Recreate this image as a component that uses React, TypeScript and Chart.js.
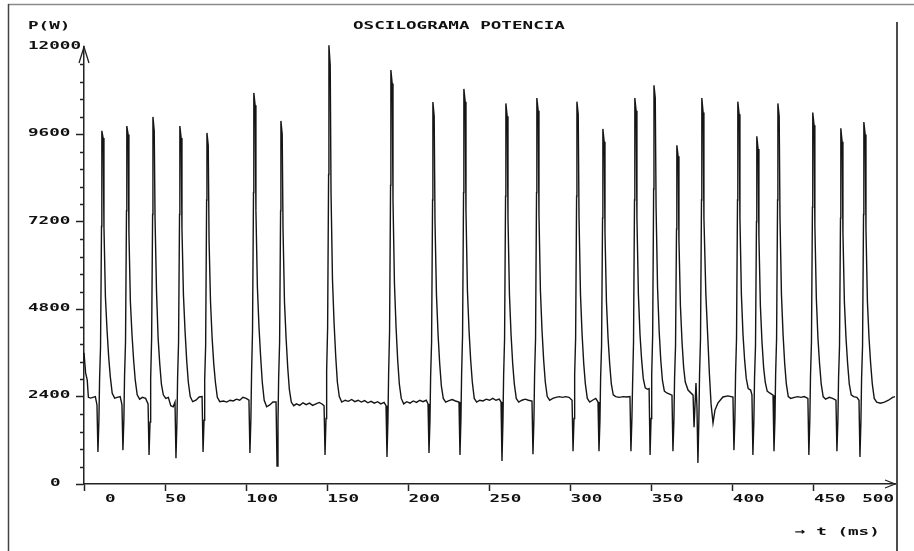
import { useEffect, useRef } from "react";
import { Chart, registerables } from "chart.js";

Chart.register(...registerables);

const TITLE = "OSCILOGRAMA POTENCIA";
const Y_UNIT = "P(W)";
const X_UNIT = "→ t (ms)";
const X_TICKS = [0, 50, 100, 150, 200, 250, 300, 350, 400, 450, 500];
const Y_TICKS = [0, 2400, 4800, 7200, 9600, 12000];
const Y_MINOR_STEP = 480;

// time samples (ms)
const T_MS = [
  0, 1.0, 2.0, 2.7, 4.0, 5.5, 7.0,
  8.0, 8.6, 9.2, 9.6, 10.2, 10.8, 11.0, 11.8, 12.3, 13.2, 14.2, 15.2, 16.2, 17.4, 18.9, 20.5, 22.3,
  23.4, 24.0, 24.6, 25.0, 25.6, 26.2, 26.4, 27.2, 27.7, 28.6, 29.6, 30.6, 31.6, 32.8, 34.3, 36.0, 38.0,
  39.5, 40.1, 40.7, 41.1, 41.7, 42.3, 42.5, 43.3, 43.8, 44.7, 45.7, 46.7, 47.7, 48.9, 50.4, 52.0, 53.5, 55.0,
  56.1, 56.7, 57.3, 57.7, 58.3, 58.9, 59.1, 59.9, 60.4, 61.3, 62.3, 63.3, 64.3, 65.5, 67.0, 69.0, 71.0,
  72.8, 73.4, 74.0, 74.4, 75.0, 75.6, 75.8, 76.6, 77.1, 78.0, 79.0, 80.0, 81.0, 82.2, 83.7, 86.0, 88.0, 90.0, 92.0, 94.0, 96.0, 98.0, 100.0,
  101.7, 102.3, 102.9, 103.3, 103.9, 104.5, 104.7, 105.5, 106.0, 106.9, 107.9, 108.9, 109.9, 111.1, 112.6, 114.5, 116.5,
  118.4, 119.0, 119.6, 120.0, 120.6, 121.2, 121.4, 122.2, 122.7, 123.6, 124.6, 125.6, 126.6, 127.8, 129.3, 131, 133, 135, 137, 139, 141, 143, 145, 147,
  148.0, 148.6, 149.2, 149.6, 150.2, 150.8, 151.0, 151.8, 152.3, 153.2, 154.2, 155.2, 156.2, 157.4, 158.9, 161, 163, 165, 167, 169, 171, 173, 175, 177, 179, 181, 183, 185,
  186.2, 186.8, 187.4, 187.8, 188.4, 189.0, 189.2, 190.0, 190.5, 191.4, 192.4, 193.4, 194.4, 195.6, 197.1, 199, 201, 203, 205, 207, 209, 211,
  212.1, 212.7, 213.3, 213.7, 214.3, 214.9, 215.1, 215.9, 216.4, 217.3, 218.3, 219.3, 220.3, 221.5, 223.0, 225, 227, 229,
  231.2, 231.8, 232.4, 232.8, 233.4, 234.0, 234.2, 235.0, 235.5, 236.4, 237.4, 238.4, 239.4, 240.6, 242.1, 244, 246, 248, 250, 252, 254, 256,
  257.1, 257.7, 258.3, 258.7, 259.3, 259.9, 260.1, 260.9, 261.4, 262.3, 263.3, 264.3, 265.3, 266.5, 268.0, 270, 272, 274,
  276.2, 276.8, 277.4, 277.8, 278.4, 279.0, 279.2, 280.0, 280.5, 281.4, 282.4, 283.4, 284.4, 285.6, 287.1, 289, 291, 293, 295, 297, 299,
  300.9, 301.5, 302.1, 302.5, 303.1, 303.7, 303.9, 304.7, 305.2, 306.1, 307.1, 308.1, 309.1, 310.3, 311.8, 313.5, 315.5,
  316.9, 317.5, 318.1, 318.5, 319.1, 319.7, 319.9, 320.7, 321.2, 322.1, 323.1, 324.1, 325.1, 326.3, 327.8, 330, 332.5, 334.5,
  336.6, 337.2, 337.8, 338.2, 338.8, 339.4, 339.6, 340.4, 340.9, 341.8, 342.8, 343.8, 344.8, 346.0, 347.5,
  348.4, 349.0, 349.6, 350.0, 350.6, 351.2, 351.4, 352.2, 352.7, 353.6, 354.6, 355.6, 356.6, 357.8, 359.3, 361.0,
  362.5, 363.1, 363.7, 364.1, 364.7, 365.3, 365.5, 366.3, 366.8, 367.7, 368.7, 369.7, 370.7, 372.4, 375.5, 376.1, 377.3, 377.9,
  378.5, 379.1, 379.5, 380.1, 380.7, 380.9, 381.7, 382.2, 383.4, 384.6, 385.6, 386.6, 387.8, 389.0, 390.8, 393.9, 397.0,
  400.1, 400.7, 401.3, 401.7, 402.3, 402.9, 403.1, 403.9, 404.4, 405.3, 406.3, 407.3, 408.3, 409.5, 411.0, 411.8,
  412.4, 413.0, 413.4, 414.0, 414.6, 414.8, 415.6, 416.1, 417.0, 418.0, 419.0, 420.0, 421.2, 422.7, 424.8,
  425.4, 426.0, 426.4, 427.0, 427.6, 427.8, 428.6, 429.1, 430.0, 431.0, 432.0, 433.0, 434.2, 435.7, 438, 440, 442, 444,
  446.3, 446.9, 447.5, 447.9, 448.5, 449.1, 449.3, 450.1, 450.6, 451.5, 452.5, 453.5, 454.5, 455.7, 457.2, 459.5, 461.5,
  463.6, 464.2, 464.8, 465.2, 465.8, 466.4, 466.6, 467.4, 467.9, 468.8, 469.8, 470.8, 471.8, 473.0, 474.5, 476.5,
  477.8, 478.4, 479.0, 479.4, 480.0, 480.6, 480.8, 481.6, 482.1, 483.0, 484.0, 485.0, 486.0, 487.2, 488.7, 491, 493.5, 496, 498.5, 500,
];

// power samples (W)
const P_W = [
  3600, 3050, 2850, 2380, 2360, 2380, 2400,
  2170, 880, 1760, 2860, 3770, 7070, 9700, 9500, 7070, 5140, 4230, 3500, 2950, 2490, 2360, 2380, 2400,
  2180, 930, 1800, 2950, 3900, 7500, 9830, 9600, 6900, 5000, 4100, 3400, 2850, 2450, 2330, 2380, 2350,
  2200, 800, 1700, 2900, 4000, 7400, 10080, 9700, 7300, 5300, 4000, 3300, 2750, 2450, 2350, 2380, 2150, 2120,
  2250, 710, 1700, 2900, 3900, 7400, 9830, 9500, 7000, 5200, 4200, 3400, 2800, 2400, 2260, 2300, 2390,
  2400, 880, 1750, 2850, 3800, 7800, 9640, 9300, 6700, 5000, 4000, 3300, 2800, 2380, 2260, 2280, 2250, 2300, 2280, 2330, 2300, 2380, 2350,
  2300, 850, 1800, 3000, 4200, 8000, 10740, 10400, 7500, 5400, 4300, 3500, 2800, 2300, 2120, 2170, 2250,
  2250, 490, 1700, 2900, 3900, 7500, 9970, 9600, 7000, 5000, 4000, 3200, 2600, 2250, 2150, 2200, 2160, 2230, 2180, 2220, 2160, 2200, 2240, 2190,
  2150, 800, 1800, 3100, 4300, 8500, 12050, 11500, 8000, 5600, 4400, 3500, 2800, 2400, 2250, 2300, 2270, 2320, 2260, 2300, 2250, 2290, 2230, 2270, 2220, 2260, 2200, 2240,
  2150, 740, 1800, 3000, 4200, 8200, 11370, 11000, 7800, 5500, 4300, 3400, 2750, 2350, 2200, 2260, 2220, 2280, 2240, 2300, 2260, 2300,
  2200, 850, 1750, 2950, 3900, 7800, 10490, 10100, 7200, 5200, 4100, 3300, 2700, 2350, 2250, 2290, 2320, 2280,
  2250, 800, 1800, 3000, 4100, 8000, 10850, 10500, 7500, 5300, 4200, 3400, 2800, 2350, 2250, 2300, 2280, 2330, 2300, 2350, 2300, 2330,
  2250, 630, 1750, 2950, 4000, 7900, 10450, 10100, 7300, 5200, 4100, 3300, 2750, 2350, 2250, 2300, 2330, 2300,
  2280, 820, 1800, 3000, 4000, 8000, 10600, 10250, 7400, 5300, 4200, 3400, 2800, 2400, 2300, 2350, 2380, 2400, 2380, 2400, 2380,
  2300, 900, 1800, 3000, 4000, 7900, 10500, 10150, 7300, 5200, 4100, 3300, 2750, 2350, 2250, 2300, 2350,
  2250, 900, 1750, 2900, 3800, 7300, 9750, 9400, 6900, 5000, 4000, 3300, 2750, 2450, 2400, 2380, 2400, 2390,
  2400, 900, 1800, 2700, 3900, 7800, 10600, 10250, 7300, 5200, 4100, 3400, 2900, 2640, 2600,
  2620, 800, 1800, 3000, 4100, 8100, 10950, 10600, 7600, 5400, 4200, 3400, 2850, 2550, 2500, 2470,
  2440, 900, 1750, 2900, 3800, 7000, 9300, 9000, 6700, 4900, 3900, 3200, 2800, 2580, 2440, 1560, 2770, 2110,
  580, 1800, 3000, 4000, 7800, 10600, 10200, 7300, 5200, 4000, 3000, 2200, 1675, 2030, 2220, 2390, 2420,
  2390, 930, 1800, 3000, 4000, 7800, 10500, 10150, 7300, 5200, 4100, 3400, 2900, 2620, 2580, 2450,
  800, 1750, 2900, 3800, 7200, 9550, 9200, 6800, 4900, 3900, 3200, 2800, 2550, 2500, 2440,
  900, 1800, 3000, 4000, 7800, 10450, 10100, 7300, 5200, 4100, 3300, 2750, 2400, 2350, 2380, 2400, 2380, 2400,
  2350, 800, 1800, 2950, 3900, 7600, 10200, 9850, 7100, 5100, 4000, 3300, 2750, 2400, 2330, 2380, 2350,
  2300, 900, 1750, 2900, 3800, 7300, 9770, 9400, 6900, 5000, 4000, 3300, 2750, 2450, 2400, 2380,
  2300, 740, 1750, 2900, 3800, 7400, 9940, 9600, 7000, 5000, 4000, 3300, 2750, 2350, 2250, 2220, 2250, 2300, 2380, 2400,
];

const FONT = "bold 11px 'DejaVu Sans Mono', 'Liberation Mono', monospace";
const STRETCH = 1.6; // DOS-like wide glyphs
const INK = "#111";
const AXIS = "#222";

function wideText(ctx: CanvasRenderingContext2D, s: string, x: number, y: number) {
  ctx.save();
  ctx.translate(x, y);
  ctx.scale(STRETCH, 1);
  ctx.fillText(s, 0, 0);
  ctx.restore();
}

const decorPlugin = {
  id: "decor",
  afterDraw(chart: any) {
    const ctx = chart.ctx as CanvasRenderingContext2D;
    const { left, right, top, bottom } = chart.chartArea;
    const xs = chart.scales.x;
    const ys = chart.scales.y;
    const seg = (x1: number, y1: number, x2: number, y2: number) => {
      ctx.beginPath();
      ctx.moveTo(x1, y1);
      ctx.lineTo(x2, y2);
      ctx.stroke();
    };
    ctx.save();
    // frame
    ctx.lineWidth = 1.5;
    ctx.strokeStyle = "#8a8a8a";
    seg(8, 4.5, 914, 4.5);
    ctx.strokeStyle = "#444";
    seg(8.5, 4, 8.5, 551);
    ctx.strokeStyle = "#111";
    seg(897, 22, 897, 551);

    // minor ticks on the y axis
    ctx.strokeStyle = AXIS;
    ctx.lineWidth = 1.5;
    const yMax = Y_TICKS[Y_TICKS.length - 1];
    for (let v = Y_MINOR_STEP; v < yMax; v += Y_MINOR_STEP) {
      if (Y_TICKS.includes(v)) continue;
      const y = Math.round(ys.getPixelForValue(v)) + 0.5;
      seg(left - 4, y, left, y);
    }

    // arrow heads
    ctx.lineWidth = 1.3;
    ctx.beginPath();
    ctx.moveTo(left - 5, top + 16);
    ctx.lineTo(left, top);
    ctx.lineTo(left + 5, top + 16);
    ctx.stroke();
    ctx.beginPath();
    ctx.moveTo(right - 10, bottom - 4);
    ctx.lineTo(right, bottom);
    ctx.lineTo(right - 10, bottom + 4);
    ctx.stroke();

    // texts
    ctx.fillStyle = INK;
    ctx.font = FONT;
    ctx.textBaseline = "middle";
    ctx.textAlign = "left";
    wideText(ctx, Y_UNIT, 28, 26);
    wideText(ctx, TITLE, 353, 26);
    wideText(ctx, X_UNIT, 795, 532);

    // y tick labels
    Y_TICKS.forEach((v) => {
      const py = ys.getPixelForValue(v);
      wideText(ctx, String(v), v === 0 ? 50 : 28, py - 1);
    });

    // x tick labels
    X_TICKS.forEach((v, i) => {
      const s = String(v);
      const px = xs.getPixelForValue(v);
      const w = ctx.measureText(s).width * STRETCH;
      let x = i === 0 ? px + 21 : px;
      x = Math.min(x, 894 - w);
      wideText(ctx, s, x, 499);
    });
    ctx.restore();
  },
};

export default function App() {
  const ref = useRef<HTMLCanvasElement | null>(null);

  useEffect(() => {
    document.body.style.margin = "0";
    const canvas = ref.current;
    if (!canvas) return;
    const n = Math.min(T_MS.length, P_W.length);
    const points = [];
    for (let i = 0; i < n; i++) points.push({ x: T_MS[i], y: P_W[i] });

    const chart = new Chart(canvas, {
      type: "line",
      data: {
        datasets: [
          {
            data: points,
            borderColor: "#151515",
            borderWidth: 1.4,
            pointRadius: 0,
            tension: 0,
            fill: false,
            clip: false as any,
          },
        ],
      },
      options: {
        responsive: false,
        animation: false,
        events: [],
        parsing: false,
        layout: { padding: { left: 28, right: 19, top: 47, bottom: 47 } },
        plugins: {
          legend: { display: false },
          tooltip: { enabled: false },
          title: { display: false },
        },
        scales: {
          x: {
            type: "linear",
            min: X_TICKS[0],
            max: X_TICKS[X_TICKS.length - 1],
            afterBuildTicks: (s: any) => {
              s.ticks = X_TICKS.map((v) => ({ value: v }));
            },
            afterFit: (s: any) => {
              s.height = 20;
            },
            ticks: { display: false },
            grid: {
              drawOnChartArea: false,
              drawTicks: true,
              tickLength: 7,
              tickWidth: 1.5,
              tickColor: (c: any) =>
                c.tick && c.tick.value === X_TICKS[X_TICKS.length - 1] ? "rgba(0,0,0,0)" : AXIS,
            },
            border: { display: true, color: AXIS, width: 1.5 },
          },
          y: {
            type: "linear",
            min: Y_TICKS[0],
            max: Y_TICKS[Y_TICKS.length - 1],
            afterBuildTicks: (s: any) => {
              s.ticks = Y_TICKS.map((v) => ({ value: v }));
            },
            afterFit: (s: any) => {
              s.width = 56;
            },
            ticks: { display: false },
            grid: {
              drawOnChartArea: false,
              drawTicks: true,
              tickLength: 8,
              tickWidth: 1.5,
              tickColor: (c: any) =>
                c.tick && c.tick.value === Y_TICKS[Y_TICKS.length - 1] ? "rgba(0,0,0,0)" : AXIS,
            },
            border: { display: true, color: AXIS, width: 1.5 },
          },
        },
      },
      plugins: [decorPlugin],
    });
    return () => chart.destroy();
  }, []);

  return (
    <div style={{ position: "absolute", left: 0, top: 0, width: 914, height: 551 }}>
      <canvas ref={ref} width={914} height={551} style={{ display: "block" }} />
    </div>
  );
}
